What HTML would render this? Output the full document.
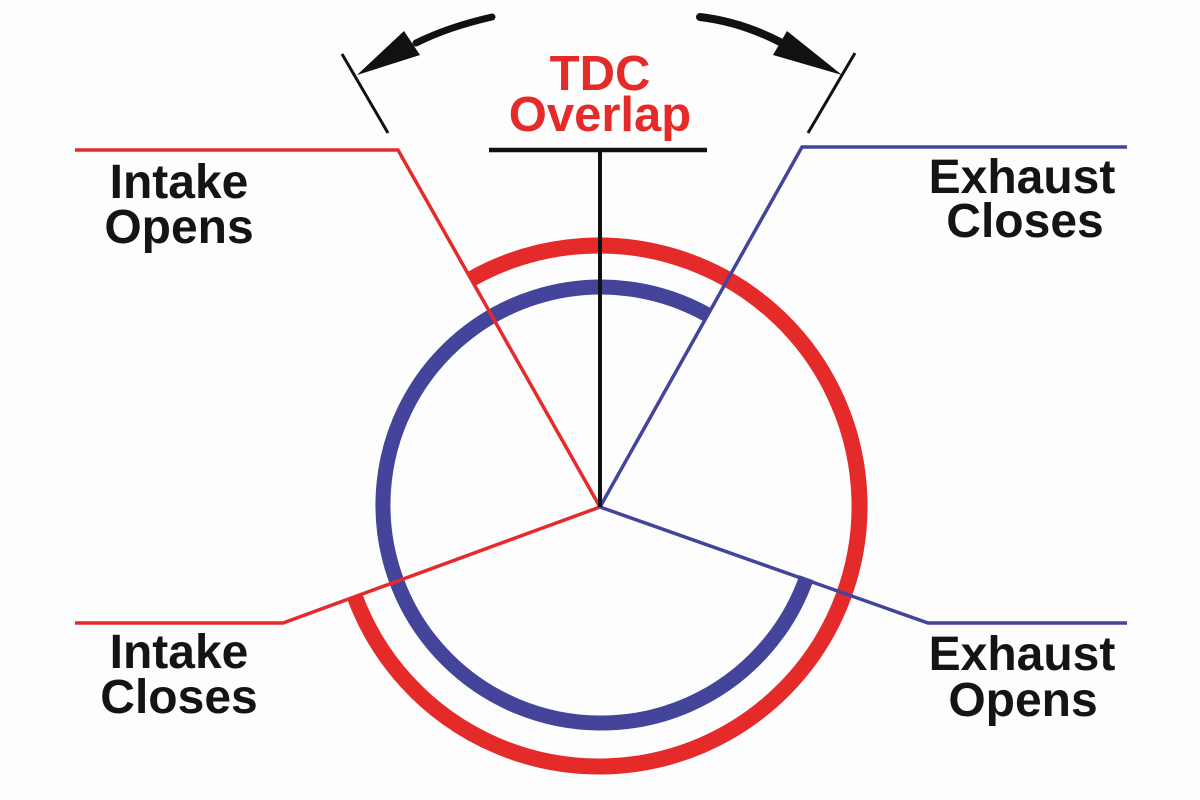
<!DOCTYPE html>
<html>
<head>
<meta charset="utf-8">
<style>
  html, body { margin: 0; padding: 0; background: #fdfdfd; }
  svg { display: block; }
  .lbl { font-family: "Liberation Sans", Arial, sans-serif; font-weight: bold; font-size: 48px; fill: #141414; }
  .red { font-family: "Liberation Sans", Arial, sans-serif; font-weight: bold; font-size: 49px; fill: #e52a2a; }
</style>
</head>
<body>
<svg width="1200" height="800" viewBox="0 0 1200 800" xmlns="http://www.w3.org/2000/svg">
  <rect width="1200" height="800" fill="#fdfdfd"/>

  <!-- Rings -->
  <path d="M 470.7 279.3 A 260.5 260.5 0 1 1 354.4 595.5" fill="none" stroke="#e52a2a" stroke-width="16" stroke-linecap="butt"/>
  <path d="M 806.5 577.7 A 218 218 0 1 1 707.4 314.8" fill="none" stroke="#43449a" stroke-width="15" stroke-linecap="butt"/>

  <!-- Spoke lines -->
  <polyline points="75,150 398,150 600,507" fill="none" stroke="#e52a2a" stroke-width="3.5" stroke-linejoin="miter"/>
  <polyline points="75,623 283,623 600,507" fill="none" stroke="#e52a2a" stroke-width="3.5"/>
  <polyline points="1127,147 802,147 600,507" fill="none" stroke="#43449a" stroke-width="3.5"/>
  <polyline points="1127,623 928,623 600,507" fill="none" stroke="#43449a" stroke-width="3.5"/>

  <!-- TDC marker -->
  <line x1="600" y1="150" x2="600" y2="507" stroke="#111" stroke-width="4"/>
  <line x1="489" y1="150" x2="707" y2="150" stroke="#111" stroke-width="4.5"/>

  <!-- Ticks -->
  <line x1="342" y1="54" x2="388" y2="133" stroke="#111" stroke-width="3"/>
  <line x1="855" y1="53" x2="808" y2="133" stroke="#111" stroke-width="3"/>

  <!-- Left arrow -->
  <path d="M 416 43 Q 448 27 492 17" fill="none" stroke="#111" stroke-width="7" stroke-linecap="round"/>
  <polygon points="357,75 404,31 420,55" fill="#111"/>

  <!-- Right arrow -->
  <path d="M 700 17 Q 742 22 782 43" fill="none" stroke="#111" stroke-width="8" stroke-linecap="round"/>
  <polygon points="842,75 787,31 773,55" fill="#111"/>

  <!-- TDC Overlap label -->
  <text class="red" x="600" y="90" text-anchor="middle">TDC</text>
  <text class="red" x="600" y="131" text-anchor="middle">Overlap</text>

  <!-- Labels -->
  <text class="lbl" x="179" y="198" text-anchor="middle">Intake</text>
  <text class="lbl" x="179" y="243" text-anchor="middle">Opens</text>

  <text class="lbl" x="1022" y="193" text-anchor="middle">Exhaust</text>
  <text class="lbl" x="1025" y="237" text-anchor="middle">Closes</text>

  <text class="lbl" x="179" y="668" text-anchor="middle">Intake</text>
  <text class="lbl" x="179" y="713" text-anchor="middle">Closes</text>

  <text class="lbl" x="1022" y="670" text-anchor="middle">Exhaust</text>
  <text class="lbl" x="1023" y="716" text-anchor="middle">Opens</text>
</svg>
</body>
</html>
